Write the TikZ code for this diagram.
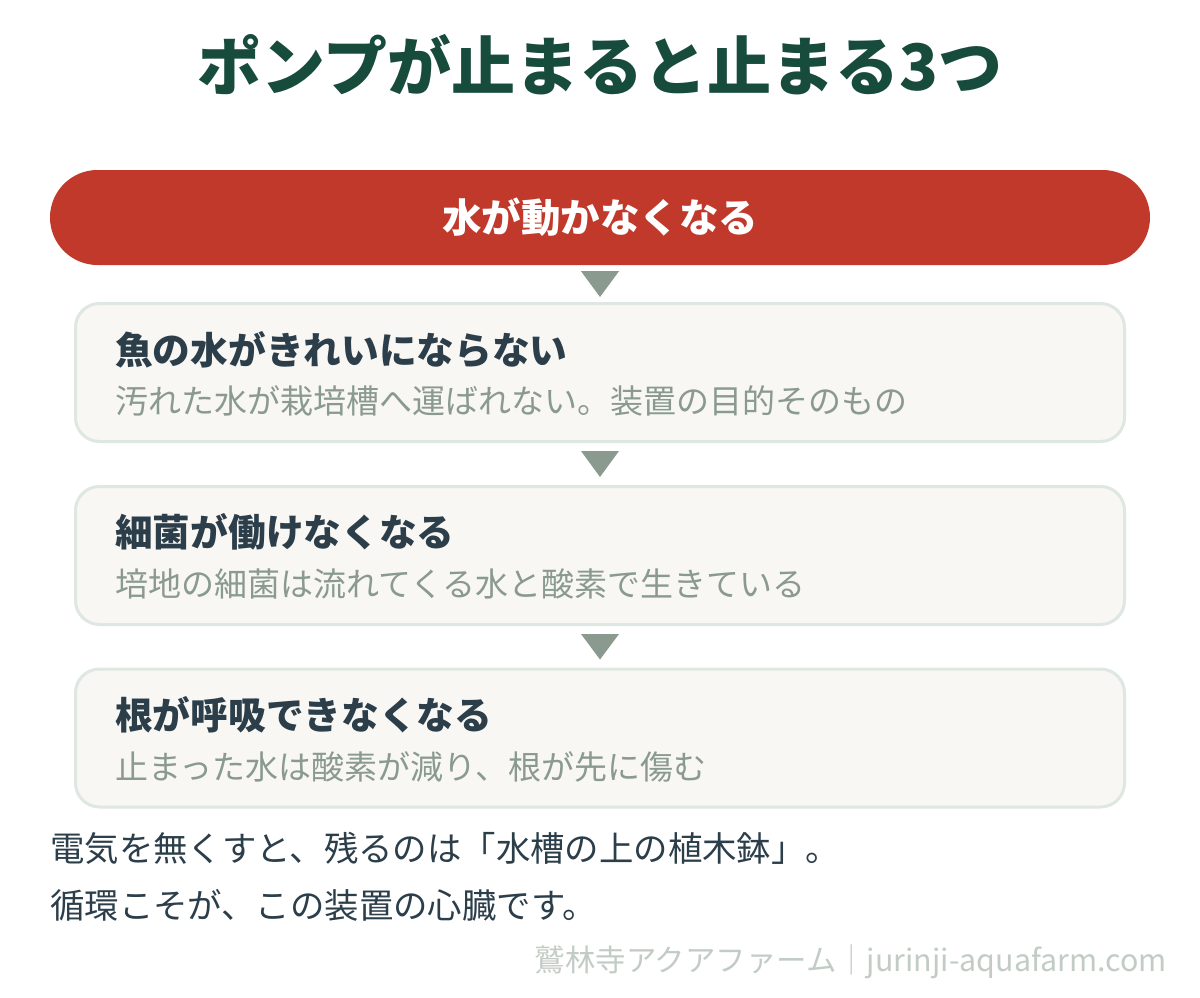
\documentclass[tikz,border=0pt]{standalone}
\usepackage{fontspec}
\setmainfont{Noto Sans CJK JP}
\usetikzlibrary{calc}
\definecolor{titlegreen}{HTML}{174B3C}
\definecolor{pillred}{HTML}{C0392B}
\definecolor{cardfill}{HTML}{F8F7F3}
\definecolor{cardline}{HTML}{DFE7E2}
\definecolor{arrowgray}{HTML}{8A9A8F}
\definecolor{inkdark}{HTML}{2C3E4A}
\definecolor{subgray}{HTML}{8A9A8F}
\definecolor{footgray}{HTML}{C2CCC5}
\tikzset{
  pill/.style={fill=pillred, rounded corners=47.5pt, minimum width=1100pt, minimum height=95pt, inner sep=0pt, text=white, font=\fontsize{39.5}{44}\selectfont\bfseries},
  card/.style={fill=cardfill, draw=cardline, line width=3pt, rounded corners=24pt, minimum width=1049pt, minimum height=138pt, inner sep=0pt},
  head/.style={anchor=west, inner sep=0pt, text=inkdark, font=\fontsize{37.7}{42}\selectfont\bfseries},
  sub/.style={anchor=west, inner sep=0pt, text=subgray, font=\fontsize{33}{38}\selectfont},
  body/.style={anchor=west, inner sep=0pt, text=inkdark, font=\fontsize{34.4}{38}\selectfont},
  tri/.style={fill=arrowgray}
}
\begin{document}
\begin{tikzpicture}[x=1pt,y=-1pt]
\useasboundingbox[fill=white] (0,0) rectangle (1200,998);
\node[inner sep=0pt, text=titlegreen, font=\fontsize{64}{72}\selectfont\bfseries] (title) at (600,65) {ポンプが止まると止まる3つ};
\node[pill] (top) at (600,217.5) {水が動かなくなる};
\node[card] (b1) at (600,372.5) {};
\node[card] (b2) at (600,555.5) {};
\node[card] (b3) at (600,738) {};
\node[head] (h1) at (115,350) {魚の水がきれいにならない};
\node[sub] (s1) at (115,401) {汚れた水が栽培槽へ運ばれない。装置の目的そのもの};
\node[head] (h2) at (115,532) {細菌が働けなくなる};
\node[sub] (s2) at (115,584) {培地の細菌は流れてくる水と酸素で生きている};
\node[head] (h3) at (115,715) {根が呼吸できなくなる};
\node[sub] (s3) at (115,767) {止まった水は酸素が減り、根が先に傷む};
\fill[tri] ($(top.south)+(-19,6)$) -- ($(top.south)+(19,6)$) -- ($(b1.north)+(0,-5)$) -- cycle;
\fill[tri] ($(b1.south)+(-19,8)$) -- ($(b1.south)+(19,8)$) -- ($(b2.north)+(0,-8)$) -- cycle;
\fill[tri] ($(b2.south)+(-19,8)$) -- ($(b2.south)+(19,8)$) -- ($(b3.north)+(0,-8)$) -- cycle;
\node[body] (t1) at (50,848) {電気を無くすと、残るのは「水槽の上の植木鉢」。};
\node[body] (t2) at (50,905) {循環こそが、この装置の心臓です。};
\node[anchor=east, inner sep=0pt, text=footgray, font=\fontsize{30.4}{34}\selectfont] (foot) at (1167,962) {鷲林寺アクアファーム｜jurinji-aquafarm.com};
\end{tikzpicture}
\end{document}
